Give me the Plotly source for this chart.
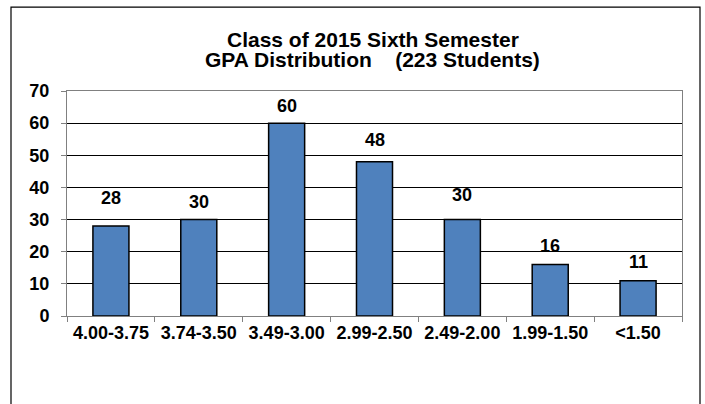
import plotly.graph_objects as go

categories = ["4.00-3.75", "3.74-3.50", "3.49-3.00", "2.99-2.50", "2.49-2.00", "1.99-1.50", "<1.50"]
students = [28, 30, 60, 48, 30, 16, 11]
y_ticks = [0, 10, 20, 30, 40, 50, 60, 70]
title_line1 = "Class of 2015 Sixth Semester"
title_line2 = "GPA Distribution    (223 Students)"

# label offsets (px) above the bar tops, as placed in the original
label_shift = [28, 18, 17, 22, 25, 19, 19]

FONT = "Liberation Sans, Arial, sans-serif"

W, H = 705, 404
L, T = 67, 91
PW, PH = 615, 225.5
R = W - L - PW
B = H - T - PH

fig = go.Figure()
fig.add_trace(go.Bar(
    x=categories, y=students,
    marker=dict(color="#4F81BD", line=dict(color="#000000", width=1.5)),
    hoverinfo="x+y",
))

for c, v, s in zip(categories, students, label_shift):
    fig.add_annotation(x=c, y=v, text="<b>%d</b>" % v, showarrow=False, yanchor="middle",
                       yshift=s, font=dict(family=FONT, size=18, color="#000000"))

fig.add_annotation(xref="paper", yref="paper", x=0.497, y=1 + (91 - 39.5) / PH,
                   text="<b>" + title_line1 + "</b>", showarrow=False, yanchor="middle",
                   font=dict(family=FONT, size=21, color="#000000"))
fig.add_annotation(xref="paper", yref="paper", x=0.497, y=1 + (91 - 59.5) / PH,
                   text="<b>" + title_line2 + "</b>", showarrow=False, yanchor="middle",
                   font=dict(family=FONT, size=21, color="#000000"))

# outer chart border
fig.add_shape(type="rect", xref="paper", yref="paper",
              x0=(11 - 67) / PW, x1=(700 - 67) / PW,
              y0=(316.5 - 420) / PH, y1=(316.5 - 7) / PH,
              line=dict(color="#000000", width=1.2), layer="above")

fig.update_layout(
    width=W, height=H,
    margin=dict(l=L, r=R, t=T, b=B, autoexpand=False),
    paper_bgcolor="white", plot_bgcolor="white",
    bargap=0.59,
    showlegend=False,
    font=dict(family=FONT, size=18, color="#000000"),
)
fig.update_xaxes(
    type="category", tickson="boundaries",
    ticks="outside", ticklen=5, tickcolor="#808080", tickwidth=1,
    showline=True, linecolor="#808080", linewidth=1, mirror=True,
    showgrid=False,
    tickfont=dict(family=FONT, size=18, color="#000000"),
    tickprefix="<b>", ticksuffix="</b>",
)
fig.update_yaxes(
    range=[0, 70], tickvals=y_ticks,
    ticktext=["<b>%d</b>" % t for t in y_ticks],
    ticks="outside", ticklen=5, tickcolor="#808080", tickwidth=1,
    showline=True, linecolor="#808080", linewidth=1, mirror=True,
    showgrid=True, gridcolor="#000000", gridwidth=1,
    zeroline=False,
    ticklabelstandoff=8,
    tickfont=dict(family=FONT, size=18, color="#000000"),
)

fig.write_html("out.html",
               config={"displayModeBar": False},
               post_script="document.body.style.margin='0';document.body.style.overflow='hidden';")
